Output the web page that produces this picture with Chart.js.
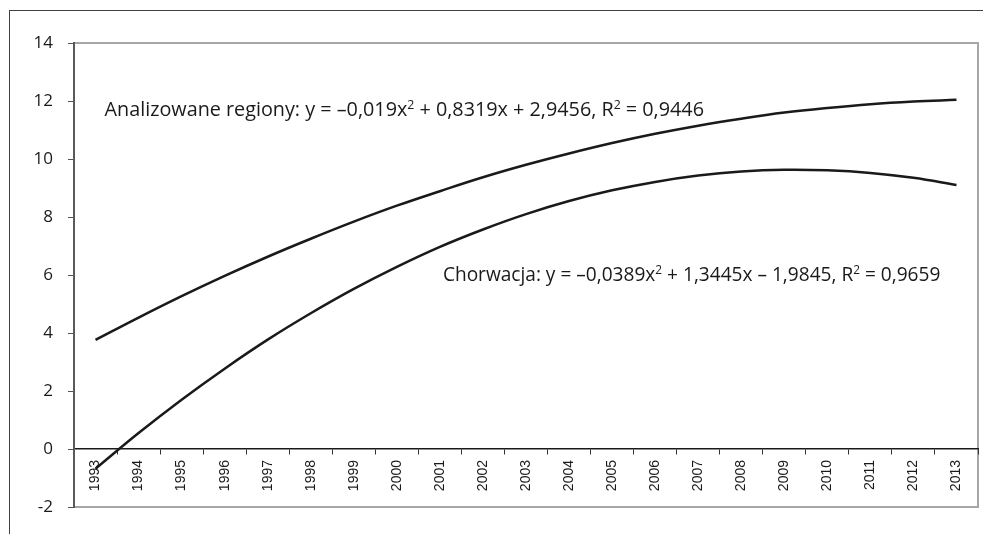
<!DOCTYPE html>
<html>
<head>
<meta charset="utf-8">
<script src="https://cdn.jsdelivr.net/npm/chart.js@4/dist/chart.umd.min.js"></script>
<style>
  html, body { margin: 0; padding: 0; background: #fff; }
  #wrap { width: 983px; height: 534px; position: relative; overflow: hidden; }
  #trendChart { position: relative; z-index: 1; }
  .frame { position: absolute; box-sizing: border-box; z-index: 0; }
  #outer { left: 9px; top: 10px; width: 990px; height: 540px; border-left: 1px solid #404040; border-top: 1px solid #404040; }
  #plot { border: 2px solid #a6a6a6; }
  .eq { position: absolute; z-index: 2; white-space: nowrap; font-family: "Open Sans"; color: #1a1a1a; line-height: 1; }
  .eq sup { font-size: 0.62em; vertical-align: baseline; position: relative; top: -0.58em; }
</style>
</head>
<body>
<div id="wrap">
  <div class="frame" id="outer"></div>
  <div class="frame" id="plot"></div>
  <canvas id="trendChart"></canvas>
  <div class="eq" id="eqRegions">Analizowane regiony: y = &ndash;0,019x<sup>2</sup> + 0,8319x + 2,9456, R<sup>2</sup> = 0,9446</div>
  <div class="eq" id="eqCroatia">Chorwacja: y = &ndash;0,0389x<sup>2</sup> + 1,3445x &ndash; 1,9845, R<sup>2</sup> = 0,9659</div>
</div>
<script>
// years on the category axis
const years = ['1993', '1994', '1995', '1996', '1997', '1998', '1999', '2000', '2001', '2002', '2003',
               '2004', '2005', '2006', '2007', '2008', '2009', '2010', '2011', '2012', '2013'];

// values
const regionsValues = [3.76, 4.53, 5.27, 5.97, 6.63, 7.25, 7.84, 8.39, 8.89, 9.37, 9.80,
                       10.19, 10.55, 10.87, 11.15, 11.39, 11.60, 11.76, 11.89, 11.98, 12.04];
const croatiaValues = [-0.68, 0.55, 1.70, 2.77, 3.77, 4.68, 5.52, 6.28, 6.97, 7.57, 8.10,
                       8.55, 8.92, 9.21, 9.43, 9.57, 9.63, 9.61, 9.52, 9.35, 9.10];

const yTicks = [-2, 0, 2, 4, 6, 8, 10, 12, 14];

const textColor = '#1a1a1a';

const chart = new Chart(document.getElementById('trendChart'), {
    type: 'line',
    data: {
        labels: years,
        datasets: [
            { data: regionsValues, borderColor: '#1a1a1a', borderWidth: 2.5, pointRadius: 0, tension: 0.4 },
            { data: croatiaValues, borderColor: '#1a1a1a', borderWidth: 2.5, pointRadius: 0, tension: 0.4 }
        ]
    },
    options: {
        responsive: true,
        maintainAspectRatio: false,
        animation: false,
        layout: {
            padding: { top: 43, right: 5, bottom: 27, left: 0 }
        },
        plugins: {
            legend: { display: false },
            tooltip: { enabled: false }
        },
        scales: {
            x: {
                position: { y: 0 },
                offset: true,
                grid: {
                    offset: true,
                    display: true,
                    drawOnChartArea: false,
                    drawTicks: true,
                    tickLength: 5,
                    tickColor: '#333'
                },
                border: { display: true, color: '#1a1a1a', width: 1.5 },
                ticks: {
                    autoSkip: false,
                    maxRotation: 90,
                    minRotation: 90,
                    padding: 6,
                    color: textColor,
                    font: { family: '"Liberation Sans", Arial, sans-serif', size: 14 }
                }
            },
            y: {
                min: -2,
                max: 14,
                afterFit(scale) { scale.width = 74; },
                afterBuildTicks(scale) { scale.ticks = yTicks.map(v => ({ value: v })); },
                grid: { drawOnChartArea: false, tickLength: 6, tickColor: '#555' },
                border: { display: true, color: '#595959', width: 2 },
                ticks: {
                    padding: 15,
                    color: textColor,
                    font: { family: '"Open Sans"', size: 17 }
                }
            }
        }
    }
});

// frame of the plot area, from the chart's own layout
const a = chart.chartArea;
const plot = document.getElementById('plot');
plot.style.left = (a.left - 1) + 'px';
plot.style.top = (a.top - 1) + 'px';
plot.style.width = (a.right - a.left + 2) + 'px';
plot.style.height = (a.bottom - a.top + 2) + 'px';

// place an equation so that its baseline sits on a value of the y scale
function placeEquation(id, category, value, dx, size) {
    const el = document.getElementById(id);
    const px = chart.scales.x.getPixelForValue(category) + dx;
    const py = chart.scales.y.getPixelForValue(value);
    el.style.fontSize = size + 'px';
    el.style.left = px + 'px';
    el.style.top = (py - 0.888 * size) + 'px';
}
placeEquation('eqRegions', 0, 11.45, 9, 19.8);
placeEquation('eqCroatia', 8, 5.77, 3, 19.1);
</script>
</body>
</html>
